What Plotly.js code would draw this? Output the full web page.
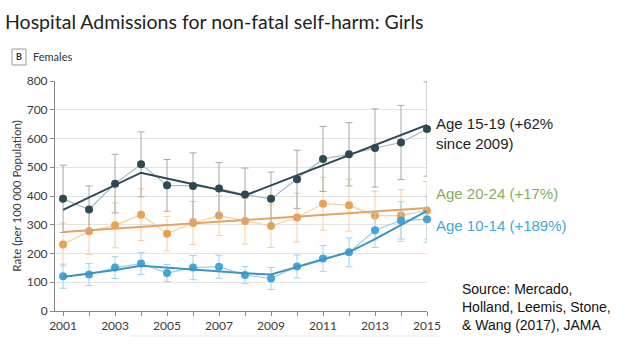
<!DOCTYPE html>
<html>
<head>
<meta charset="utf-8">
<script src="https://cdn.plot.ly/plotly-3.0.1.min.js"></script>
<style>html,body{margin:0;padding:0;background:#fff;}#chart{width:625px;height:348px;}</style>
</head>
<body>
<div id="chart"></div>
<script>
// ---- data ----
const years = [2001,2002,2003,2004,2005,2006,2007,2008,2009,2010,2011,2012,2013,2014,2015];
const tickYears = [2001,2002,2003,2004,2005,2006,2007,2008,2009,2010,2011,2012,2013,2014,2015];
const tickYearLabels = ['2001','','2003','','2005','','2007','','2009','','2011','','2013','','2015'];

const rate15to19 = [390,353,443,510,437,435,426,405,390,458,529,545,567,586,633];
const err15to19  = [117,82,102,113,90,115,90,92,93,101,113,110,136,129,164];
const trend15to19 = [352,395,438,481,461,441,421,402,437,472,507,542,577,612,647];

const rate20to24 = [231,277,298,335,269,306,332,313,296,325,373,368,332,332,350];
const err20to24  = [75,80,78,90,60,75,70,80,75,85,92,90,85,90,100];
const trend20to24 = [275,281,287,293,299,305,311,317,323,329,334,340,346,352,358];

const rate10to14 = [121,127,151,165,132,151,154,125,113,155,183,204,281,315,319];
const err10to14  = [42,38,38,38,30,42,40,30,38,40,45,50,60,65,80];
const trend10to14 = [118,130,143,157,150,143,137,131,127,153,181,205,250,298,348];

const yTicks = [0,100,200,300,400,500,600,700,800];

function observed(y, err, lineCol, markCol, errCol) {
  return {
    x: years, y: y, type: 'scatter', mode: 'lines+markers', cliponaxis: false,
    line: {color: lineCol, width: 1.2},
    marker: {color: markCol, size: 8},
    error_y: {type: 'data', array: err, visible: true, color: errCol, thickness: 1, width: 3.5},
    hoverinfo: 'skip', showlegend: false
  };
}
function trend(y, col) {
  return {x: years, y: y, type: 'scatter', mode: 'lines', cliponaxis: false,
    line: {color: col, width: 2}, hoverinfo: 'skip', showlegend: false};
}

const data = [
  observed(rate20to24, err20to24, '#f3cfa3', '#e9a254', '#f0cfa6'),
  observed(rate10to14, err10to14, '#97d2ec', '#45a3d6', '#9fd3ea'),
  observed(rate15to19, err15to19, '#a9b8bf', '#2c4954', '#a8a8a8'),
  trend(trend20to24, '#e2a466'),
  trend(trend10to14, '#3f93c4'),
  trend(trend15to19, '#2e4855')
];

const tickFont = {family: 'Lato, sans-serif', size: 12, color: '#3a3a3a'};

const layout = {
  width: 625, height: 348,
  margin: {l: 55, r: 198, t: 81, b: 37, pad: 0},
  paper_bgcolor: '#ffffff', plot_bgcolor: '#ffffff',
  title: {text: 'Hospital Admissions for non-fatal self-harm: Girls',
    font: {family: 'Lato, sans-serif', size: 19.5, color: '#222'},
    x: 5/625, xanchor: 'left', xref: 'container', y: 1 - 22/348, yanchor: 'middle', yref: 'container'},
  xaxis: {range: [2000.69, 2015], tickmode: 'array', tickvals: tickYears, ticktext: tickYearLabels,
    ticks: 'outside', ticklen: 4, tickcolor: '#888', showgrid: false, zeroline: false,
    showline: true, linecolor: '#888', linewidth: 1, tickfont: tickFont, fixedrange: true},
  yaxis: {range: [0, 800], tickmode: 'array', tickvals: yTicks, ticks: 'outside', ticklen: 4,
    tickcolor: '#888', showgrid: true, gridcolor: '#e4e4e4', gridwidth: 1, zeroline: false,
    showline: true, linecolor: '#888', linewidth: 1, tickfont: tickFont,
    title: {text: 'Rate (per 100 000 Population)', font: {family: 'Lato, sans-serif', size: 11.5, color: '#3a3a3a'}, standoff: 2},
    fixedrange: true},
  shapes: [
    {type: 'rect', xref: 'paper', yref: 'paper', x0: -43/372, x1: -29/372, y0: (311-65)/230, y1: (311-49)/230,
      line: {color: '#999', width: 1}, fillcolor: '#fff'},
    {type: 'line', xref: 'paper', yref: 'paper', x0: (130-55)/372, x1: (440-55)/372, y0: (311-336)/230, y1: (311-336)/230,
      line: {color: '#e6e6e6', width: 1}}
  ],
  annotations: [
    {text: '<b>B</b>', xref: 'paper', yref: 'paper', x: (19-55)/372, y: (311-57)/230, showarrow: false,
      xanchor: 'center', yanchor: 'middle', font: {family: 'Lato, sans-serif', size: 9, color: '#333'}},
    {text: 'Females', xref: 'paper', yref: 'paper', x: (31-55)/372, y: (311-57)/230, showarrow: false,
      xanchor: 'left', yanchor: 'middle', font: {family: 'Lato, sans-serif', size: 11, color: '#333'}},
    {text: 'Age 15-19 (+62%<br>since 2009)', xref: 'paper', yref: 'paper', x: (434-55)/372, y: (311-133)/230,
      showarrow: false, xanchor: 'left', yanchor: 'middle', align: 'left',
      font: {family: 'Liberation Sans, Arial, sans-serif', size: 15, color: '#1e1e1e'}},
    {text: 'Age 20-24 (+17%)', xref: 'paper', yref: 'paper', x: (434-55)/372, y: (311-193)/230,
      showarrow: false, xanchor: 'left', yanchor: 'middle',
      font: {family: 'Liberation Sans, Arial, sans-serif', size: 15, color: '#86ad5e'}},
    {text: 'Age 10-14 (+189%)', xref: 'paper', yref: 'paper', x: (434-55)/372, y: (311-225)/230,
      showarrow: false, xanchor: 'left', yanchor: 'middle',
      font: {family: 'Liberation Sans, Arial, sans-serif', size: 15, color: '#3fa9d4'}},
    {text: 'Source: Mercado,<br>Holland, Leemis, Stone,<br>& Wang (2017), JAMA', xref: 'paper', yref: 'paper',
      x: (460-55)/372, y: (311-307)/230, showarrow: false, xanchor: 'left', yanchor: 'middle', align: 'left',
      font: {family: 'Liberation Sans, Arial, sans-serif', size: 14, color: '#111'}}
  ]
};

Plotly.newPlot('chart', data, layout, {displayModeBar: false, staticPlot: true});
</script>
</body>
</html>
